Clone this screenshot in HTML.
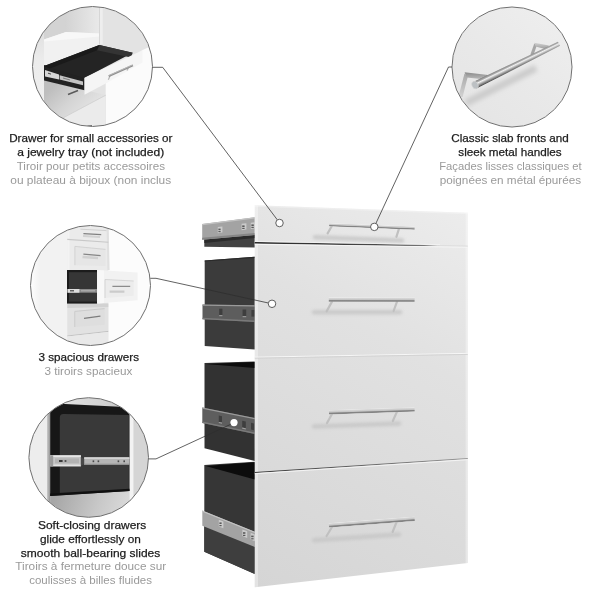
<!DOCTYPE html>
<html>
<head>
<meta charset="utf-8">
<title>3 Drawer Set Features</title>
<style>
html,body{margin:0;padding:0;background:#fff;}
body{width:600px;height:600px;overflow:hidden;position:relative;font-family:"Liberation Sans",sans-serif;}
svg{position:absolute;left:0;top:0;display:block;will-change:transform;}
text{font-family:"Liberation Sans",sans-serif;font-size:11.7px;}
.en{fill:#1c1c1c;stroke:#1c1c1c;stroke-width:0.25px;}
.fr{fill:#9a9a9a;}
.ld{fill:none;stroke:#2e2e2e;stroke-width:0.75;}
.ring{fill:none;stroke:#6f6f6f;stroke-width:1;}
.dot{fill:#fff;stroke:#555;stroke-width:0.95;}
</style>
</head>
<body>
<svg width="600" height="600" viewBox="0 0 600 600">
<defs>
  <linearGradient id="gFront" gradientUnits="userSpaceOnUse" x1="467" y1="213" x2="255" y2="587">
    <stop offset="0" stop-color="#ececec"/>
    <stop offset="0.35" stop-color="#e1e1e1"/>
    <stop offset="1" stop-color="#d5d5d5"/>
  </linearGradient>
  <linearGradient id="gRailL" x1="0" y1="0" x2="0" y2="1">
    <stop offset="0" stop-color="#b4b4b4"/>
    <stop offset="1" stop-color="#8e8e8e"/>
  </linearGradient>
  <linearGradient id="gRailD" x1="0" y1="0" x2="0" y2="1">
    <stop offset="0" stop-color="#7c7c7c"/>
    <stop offset="1" stop-color="#6a6a6a"/>
  </linearGradient>
  <linearGradient id="gBar" x1="0" y1="0" x2="0" y2="1">
    <stop offset="0" stop-color="#bdbdbd"/>
    <stop offset="0.5" stop-color="#9a9a9a"/>
    <stop offset="1" stop-color="#7d7d7d"/>
  </linearGradient>
  <filter id="blur2" x="-20%" y="-200%" width="140%" height="500%"><feGaussianBlur stdDeviation="1.6"/></filter>
  <filter id="blur1"><feGaussianBlur stdDeviation="0.6"/></filter>
  <clipPath id="c1"><circle cx="92.5" cy="66.5" r="59.5"/></clipPath>
  <clipPath id="c2"><circle cx="90.5" cy="285.5" r="59.5"/></clipPath>
  <clipPath id="c3"><circle cx="88.7" cy="457.5" r="59.5"/></clipPath>
  <clipPath id="c4"><circle cx="512" cy="67" r="59.5"/></clipPath>
  <linearGradient id="gC1L" x1="0" y1="0" x2="0" y2="1">
    <stop offset="0" stop-color="#d4d4d4"/><stop offset="0.45" stop-color="#ececec"/><stop offset="1" stop-color="#f0f0f0"/>
  </linearGradient>
  <linearGradient id="gC1S" gradientUnits="userSpaceOnUse" x1="56" y1="84" x2="86" y2="116">
    <stop offset="0" stop-color="#bebebe"/><stop offset="0.5" stop-color="#d4d4d4"/><stop offset="1" stop-color="#e4e4e4"/>
  </linearGradient>
  <linearGradient id="gC2R" gradientUnits="userSpaceOnUse" x1="108" y1="0" x2="122" y2="0">
    <stop offset="0" stop-color="#ececec"/><stop offset="1" stop-color="#fbfbfb"/>
  </linearGradient>
  <linearGradient id="gC3B" gradientUnits="userSpaceOnUse" x1="55" y1="494" x2="125" y2="518">
    <stop offset="0" stop-color="#a6a6a6"/><stop offset="0.6" stop-color="#c8c8c8"/><stop offset="1" stop-color="#dadada"/>
  </linearGradient>
  <linearGradient id="gC4" gradientUnits="userSpaceOnUse" x1="560" y1="15" x2="470" y2="120">
    <stop offset="0" stop-color="#eeeeee"/><stop offset="0.5" stop-color="#e9e9e9"/><stop offset="1" stop-color="#e5e5e5"/>
  </linearGradient>
  <linearGradient id="gBar4" gradientUnits="userSpaceOnUse" x1="515.4" y1="61.4" x2="518.4" y2="67.6">
    <stop offset="0" stop-color="#6a6a6a"/><stop offset="0.1" stop-color="#8c8c8c"/><stop offset="0.28" stop-color="#b0b0b0"/><stop offset="0.42" stop-color="#f0f0f0"/><stop offset="0.55" stop-color="#d0d0d0"/><stop offset="0.75" stop-color="#9a9a9a"/><stop offset="0.92" stop-color="#6e6e6e"/><stop offset="1" stop-color="#4a4a4a"/>
  </linearGradient>
  <linearGradient id="gArm" x1="0" y1="0" x2="0" y2="1"><stop offset="0" stop-color="#8a8a8a"/><stop offset="1" stop-color="#bdbdbd"/></linearGradient>
  <linearGradient id="gArm2" x1="0" y1="0" x2="0" y2="1"><stop offset="0" stop-color="#d2d2d2"/><stop offset="1" stop-color="#9c9c9c"/></linearGradient>
  <linearGradient id="gLeg" x1="0" y1="0" x2="0" y2="1"><stop offset="0" stop-color="#a8a8a8"/><stop offset="1" stop-color="#d2d2d2"/></linearGradient>
  <filter id="blur3" x="-20%" y="-20%" width="140%" height="140%"><feGaussianBlur stdDeviation="2.2"/></filter>
  <linearGradient id="gGap1" gradientUnits="userSpaceOnUse" x1="255" y1="0" x2="440" y2="0">
    <stop offset="0" stop-color="#262626"/><stop offset="0.7" stop-color="#4a4a4a"/><stop offset="1" stop-color="#8a8a8a"/>
  </linearGradient>
  <linearGradient id="gC1W" gradientUnits="userSpaceOnUse" x1="64" y1="0" x2="99" y2="0">
    <stop offset="0" stop-color="#d2d2d2"/><stop offset="1" stop-color="#e9e9e9"/>
  </linearGradient>
  <linearGradient id="gBarV" x1="0" y1="0" x2="0" y2="1">
    <stop offset="0" stop-color="#f0f0f0"/><stop offset="0.12" stop-color="#d8d8d8"/><stop offset="0.5" stop-color="#c4c4c4"/><stop offset="0.62" stop-color="#9c9c9c"/><stop offset="0.72" stop-color="#838383"/><stop offset="0.92" stop-color="#838383"/><stop offset="1" stop-color="#b8b8b8"/>
  </linearGradient>
  <linearGradient id="gC2L" gradientUnits="userSpaceOnUse" x1="31" y1="0" x2="40" y2="0">
    <stop offset="0" stop-color="#fdfdfd"/><stop offset="1" stop-color="#f2f2f2"/>
  </linearGradient>
  <linearGradient id="gGap3" gradientUnits="userSpaceOnUse" x1="255" y1="0" x2="468" y2="0">
    <stop offset="0" stop-color="#3a3a3a"/><stop offset="0.5" stop-color="#666"/><stop offset="1" stop-color="#9a9a9a"/>
  </linearGradient>
  <linearGradient id="gC3S" x1="0" y1="0" x2="1" y2="0"><stop offset="0" stop-color="#cacaca"/><stop offset="1" stop-color="#8e8e8e"/></linearGradient>
  <linearGradient id="gC3T" x1="0" y1="0" x2="1" y2="0"><stop offset="0" stop-color="#e8e8e8"/><stop offset="1" stop-color="#c6c6c6"/></linearGradient>
</defs>

<!-- ============ PRODUCT ============ -->
<g id="product">
  <!-- drawer 1 : rail + dark underside -->
  <polygon points="204.3,239 254.8,234 254.8,247.6 204.3,246.8" fill="#424242"/>
  <polygon points="204.3,239 254.8,234 254.8,238 204.3,243" fill="#2b2b2b"/>
  <polygon points="202.2,224 254.8,217.2 254.8,235 202.2,239.8" fill="#a3a3a3"/>
  <polygon points="202.2,224 254.8,217.2 254.8,218.4 202.2,225.2" fill="#c2c2c2"/>
  <polygon points="202.2,237.8 254.8,233 254.8,235 202.2,239.8" fill="#858585"/>
  <!-- drawer 2 box -->
  <polygon points="204.7,260.4 254.8,256.8 254.8,349.4 204.7,346" fill="#3b3b3b"/>
  <polygon points="204.7,260.4 254.8,256.8 254.8,258 204.7,261.6" fill="#2a2a2a"/>
  <polygon points="202.5,304.6 254.8,305.3 254.8,322 202.5,319.3" fill="#5d5d5d"/>
  <polygon points="202.5,304.6 254.8,305.3 254.8,306.4 202.5,305.7" fill="#9a9a9a"/>
  <polygon points="202.5,317.8 254.8,320.4 254.8,322 202.5,319.3" fill="#7a7a7a"/>
  <!-- drawer 3 box -->
  <polygon points="204.5,363 254.8,361.5 254.8,461 204.5,448.3" fill="#323232"/>
  <polygon points="205.5,364 254.8,362 254.8,368" fill="#0c0c0c"/>
  <polygon points="202.3,407.5 254.8,418 254.8,434 202.3,423" fill="#5e5e5e"/>
  <polygon points="202.3,407.5 254.8,418 254.8,419.2 202.3,408.7" fill="#9a9a9a"/>
  <polygon points="202.3,421.5 254.8,432.5 254.8,434 202.3,423" fill="#7a7a7a"/>
  <!-- drawer 4 box -->
  <polygon points="204.3,465 254.8,461.8 254.8,574 204.3,551.7" fill="#363636"/>
  <polygon points="205.5,466 254.8,462.3 254.8,479.5" fill="#0c0c0c"/>
  <polygon points="204.3,526 254.8,547 254.8,574 204.3,551.7" fill="#3e3e3e"/>
  <polygon points="202.3,510.5 254.8,531.7 254.8,547 202.3,525.8" fill="#a3a3a3"/>
  <polygon points="202.3,510.5 254.8,531.7 254.8,533 202.3,511.8" fill="#c4c4c4"/>

  <!-- rail holes -->
  <g fill="#cbcbcb">
    <polygon points="217.8,227 222.4,226.4 222.4,232.6 217.8,233.2"/>
    <polygon points="241.6,223.8 246.4,223.2 246.4,229.6 241.6,230.2"/>
    <polygon points="250.8,222.8 254.8,222.3 254.8,228.6 250.8,229.1"/>
    <polygon points="218.8,519.8 223.4,521.6 223.4,528.2 218.8,526.4"/>
    <polygon points="242.4,529.4 247.2,531.3 247.2,538 242.4,536.1"/>
    <polygon points="250.6,532.8 254.8,534.5 254.8,541.2 250.6,539.5"/>
  </g>
  <g fill="#5a5a5a">
    <rect x="218.4" y="228.6" width="2.2" height="1.6"/><rect x="218.4" y="231" width="2.2" height="1.2"/>
    <rect x="242.2" y="225.4" width="2.4" height="1.6"/><rect x="242.2" y="227.8" width="2.4" height="1.2"/>
    <rect x="251.4" y="224.4" width="2.4" height="1.6"/><rect x="251.4" y="226.8" width="2.4" height="1.2"/>
    <rect x="219.4" y="522.4" width="2.2" height="1.6"/><rect x="219.4" y="525" width="2.2" height="1.2"/>
    <rect x="243" y="532.2" width="2.4" height="1.6"/><rect x="243" y="534.8" width="2.4" height="1.2"/>
    <rect x="251.2" y="535.6" width="2.4" height="1.6"/><rect x="251.2" y="538.2" width="2.4" height="1.2"/>
  </g>
  <g fill="#3e3e3e">
    <rect x="219.2" y="308.7" width="3.2" height="6.4"/>
    <rect x="242.6" y="309.5" width="3.6" height="6.6"/>
    <rect x="251.4" y="310" width="3" height="6.6"/>
    <polygon points="218.8,415.6 222,416.3 222,422.6 218.8,421.9"/>
    <polygon points="242.2,420.8 245.8,421.5 245.8,428.3 242.2,427.6"/>
    <polygon points="251,422.8 254,423.4 254,430.2 251,429.6"/>
  </g>
  <g fill="#9c9c9c">
    <rect x="219.2" y="315.1" width="3.2" height="1.1"/>
    <rect x="242.6" y="316.1" width="3.6" height="1.1"/>
    <polygon points="218.8,421.9 222,422.6 222,423.7 218.8,423"/>
    <polygon points="242.2,427.6 245.8,428.3 245.8,429.4 242.2,428.7"/>
  </g>

  <!-- front panel -->
  <polygon points="254.8,205.3 467.8,212.8 467.8,563 254.8,587.2" fill="url(#gFront)"/>
  <polygon points="254.8,205.3 467.8,212.8 467.8,214.2 254.8,206.7" fill="#fff" opacity="0.3"/>
  <polygon points="254.8,205.3 258,205.4 258,586.8 254.8,587.2" fill="#fff" opacity="0.35"/>
  <polygon points="465.6,212.7 467.8,212.8 467.8,563 465.6,563.3" fill="#fff" opacity="0.35"/>
  <!-- gaps -->
  <polygon points="254.8,242 420,244.7 440,245.9 420,246.2 254.8,243.6" fill="url(#gGap1)"/>
  <line x1="254.8" y1="241.4" x2="440" y2="244.6" stroke="#f4f4f4" stroke-width="0.8"/>
  <line x1="438" y1="245.9" x2="467.8" y2="246.2" stroke="#d4d4d4" stroke-width="0.9"/>
  <line x1="254.8" y1="244.4" x2="467.8" y2="247.2" stroke="#f6f6f6" stroke-width="1"/>
  <line x1="254.8" y1="357.2" x2="467.8" y2="353.4" stroke="#f7f7f7" stroke-width="1"/>
  <line x1="254.8" y1="358.2" x2="467.8" y2="354.4" stroke="#d0d0d0" stroke-width="0.9"/>
  <line x1="254.8" y1="472.5" x2="467.8" y2="458.5" stroke="url(#gGap3)" stroke-width="1.15"/>
  <line x1="254.8" y1="473.7" x2="467.8" y2="459.7" stroke="#f4f4f4" stroke-width="1"/>

  <!-- handle shadows -->
  <g filter="url(#blur2)" stroke="#c6c6c6" stroke-width="4.5" fill="none" stroke-linecap="round" opacity="0.85">
    <line x1="315" y1="237.2" x2="402" y2="240.4"/>
    <line x1="314" y1="312.3" x2="400" y2="312.3"/>
    <line x1="314" y1="426.4" x2="399" y2="423.6"/>
    <line x1="314" y1="540.2" x2="399" y2="534.4"/>
  </g>
  <!-- handle posts -->
  <g stroke="#c0c0c0" stroke-width="2.2" fill="none" stroke-linecap="round">
    <line x1="332" y1="225.8" x2="327.6" y2="233.4"/>
    <line x1="399" y1="228.6" x2="396.4" y2="236.8"/>
    <line x1="332" y1="301.6" x2="326.6" y2="311.4"/>
    <line x1="397" y1="301.6" x2="393.6" y2="311"/>
    <line x1="332" y1="414" x2="327" y2="423"/>
    <line x1="397" y1="411.6" x2="392.8" y2="421"/>
    <line x1="332" y1="527" x2="326.6" y2="536"/>
    <line x1="397" y1="521" x2="392.6" y2="532"/>
  </g>
  <!-- handle bars -->
  <rect x="0" y="-1.55" width="85.46" height="3.10" fill="url(#gBarV)" transform="translate(329.20,224.80) rotate(2.213)"/>
  <rect x="0" y="-2.10" width="85.80" height="4.20" fill="url(#gBarV)" transform="translate(328.80,299.65) rotate(0.067)"/>
  <rect x="0" y="-2.10" width="85.65" height="4.20" fill="url(#gBarV)" transform="translate(329.00,412.30) rotate(-1.873)"/>
  <rect x="0" y="-2.10" width="85.85" height="4.20" fill="url(#gBarV)" transform="translate(329.00,525.40) rotate(-4.409)"/>
</g>

<!-- ============ CIRCLE 1 ============ -->
<g clip-path="url(#c1)">
  <rect x="30" y="4" width="126" height="126" fill="#e3e3e3"/>
  <!-- left side panel -->
  <rect x="30" y="4" width="14" height="126" fill="url(#gC1L)"/>
  <!-- interior back wall, left inner wall, shelf -->
  <rect x="44" y="4" width="55.5" height="40" fill="url(#gC1W)"/>
  <polygon points="44,4 64,4 66,32 44,39.5" fill="#d3d3d3"/>
  <polygon points="66,32 99.5,33.5 99.5,46 44,67 44,39.5" fill="#f1f1f1"/>
  <polygon points="66,32 99.5,33.5 99.5,36.5 44,41.5 44,39.5" fill="#f8f8f8"/>
  <!-- vertical divider -->
  <rect x="99.3" y="4" width="3.4" height="40.5" fill="#eeeeee"/>
  <rect x="99" y="4" width="0.7" height="40.5" fill="#cdcdcd"/>
  <!-- right white area below drawer -->
  <polygon points="142.5,50 156,44 156,130 105.7,130 105.7,83.5" fill="#fbfbfb"/>
  <!-- lower drawer fronts (left) -->
  <polygon points="44,80 84.7,90 105.7,95 105.7,130 44,130" fill="url(#gC1S)"/>
  <polygon points="105.7,95.5 105.7,130 50,130 50,125" fill="#ebebeb"/>
  <line x1="105.7" y1="95.2" x2="60" y2="119.5" stroke="#cfcfcf" stroke-width="0.8"/>
  <line x1="68" y1="94.5" x2="78" y2="90.5" stroke="#5a5a5a" stroke-width="1.4"/>
  <line x1="87.5" y1="126.2" x2="92" y2="125.6" stroke="#6a6a6a" stroke-width="1.2"/>
  <!-- drawer side -->
  <polygon points="44,65 84.5,77 84.5,90.2 44,80.5" fill="#222222"/>
  <polygon points="45,70 59,74.6 59,79.6 45,76.5" fill="#d6d6d6"/>
  <polygon points="59.6,75.2 83,81.4 83,85.2 59.6,79.6" fill="#c4c4c4"/>
  <line x1="48" y1="73.2" x2="51" y2="74.1" stroke="#444" stroke-width="1"/>
  <line x1="63" y1="78" x2="70" y2="80" stroke="#6a6a6a" stroke-width="0.8"/>
  <!-- interior -->
  <polygon points="44.2,66 99.3,45 132.7,52.7 84.5,78" fill="#242424"/>
  <polygon points="99.3,45 132.7,52.7 131,57.5 97,50.2" fill="#343434"/>
  <polygon points="44.2,66 99.3,45 97,50.2 50,68.5" fill="#1a1a1a"/>
  <!-- drawer front -->
  <polygon points="84.5,77.8 142.5,50.3 142.5,62.5 105.7,83.5 84.5,94.8" fill="#f5f5f5"/>
  <line x1="110" y1="76" x2="108.3" y2="79.8" stroke="#b5b5b5" stroke-width="1.2"/>
  <line x1="128.5" y1="67.4" x2="127" y2="70.6" stroke="#b5b5b5" stroke-width="1.2"/>
  <line x1="108.7" y1="76.2" x2="132.9" y2="65.4" stroke="#8e8e8e" stroke-width="2"/>
  <line x1="108.7" y1="75.6" x2="132.9" y2="64.8" stroke="#c6c6c6" stroke-width="0.7"/>
</g>
<circle class="ring" cx="92.5" cy="66.5" r="60"/>

<!-- ============ CIRCLE 2 ============ -->
<g clip-path="url(#c2)">
  <rect x="28" y="224" width="126" height="126" fill="url(#gC2L)"/>
  <rect x="108.3" y="224" width="50" height="126" fill="#fcfcfc"/>
  <rect x="67.3" y="224" width="41" height="126" fill="#ebebeb"/>
  <rect x="67.3" y="224" width="2.2" height="126" fill="#f3f3f3"/>
  <polygon points="106.6,224 108.6,224 109.6,270 107.4,270" fill="#e0e0e0"/>
  <!-- top partial drawer -->
  <line x1="80.5" y1="229.2" x2="106.5" y2="230.6" stroke="#cdcdcd" stroke-width="0.9"/>
  <line x1="83" y1="236" x2="100" y2="237" stroke="#d2d2d2" stroke-width="2.2"/>
  <line x1="83.4" y1="233.6" x2="101.2" y2="234.6" stroke="#808080" stroke-width="1.3"/>
  <line x1="67.3" y1="239.4" x2="108.3" y2="242.2" stroke="#c8c8c8" stroke-width="1.1"/>
  <!-- drawer 2 -->
  <polygon points="74.9,246.4 105.5,249.4 105.5,266 74.9,265.2" fill="#e6e6e6"/>
  <polyline points="74.9,265.2 74.9,246.4 105.5,249.4" fill="none" stroke="#cfcfcf" stroke-width="0.9"/>
  <line x1="82.5" y1="257" x2="98" y2="258" stroke="#d0d0d0" stroke-width="2.4"/>
  <line x1="83.4" y1="254.2" x2="100.6" y2="255.6" stroke="#858585" stroke-width="1.3"/>
  <!-- drawer 4 (below open) -->
  <polygon points="67.3,303.6 108.3,303.6 108.3,331.6 67.3,336" fill="#e2e2e2"/>
  <polygon points="67.3,303.6 108.3,303.6 108.3,307 67.3,308" fill="#d2d2d2"/>
  <polygon points="74.8,311.4 104.6,308.6 104.6,324.8 74.8,327" fill="#dedede"/>
  <polyline points="74.8,327 74.8,311.4 104.6,308.6" fill="none" stroke="#c8c8c8" stroke-width="0.9"/>
  <line x1="84" y1="318.4" x2="100.4" y2="316.2" stroke="#7c7c7c" stroke-width="1.3"/>
  <line x1="67.3" y1="336" x2="108.3" y2="331.4" stroke="#c2c2c2" stroke-width="1"/>
  <polygon points="67.3,336.6 108.3,332 108.3,350 67.3,350" fill="#e9e9e9"/>
  <!-- open drawer -->
  <rect x="67" y="270" width="30.2" height="33.6" fill="#1c1c1c"/>
  <rect x="69" y="272.2" width="28.2" height="29.4" fill="#363636"/>
  <rect x="67.4" y="289" width="29.8" height="3.7" fill="#8a8a8a"/>
  <rect x="67.6" y="289" width="11.8" height="3.7" fill="#dedede"/>
  <rect x="70" y="290.2" width="4" height="1.2" fill="#444"/>
  <rect x="81" y="290.3" width="14" height="1" fill="#b5b5b5"/>
  <polygon points="97.1,270 137.6,272.5 137.6,300.2 97.1,303.6" fill="#f2f2f2"/>
  <polygon points="97.1,270 104,270.4 104,303 97.1,303.6" fill="#f8f8f8"/>
  <polygon points="105,279.5 133.7,281 133.7,295.8 105,298" fill="#ececec"/>
  <polyline points="105,298 105,279.5 133.7,281" fill="none" stroke="#d2d2d2" stroke-width="0.9"/>
  <line x1="109.6" y1="291.6" x2="124.4" y2="291.6" stroke="#cbcbcb" stroke-width="2.4"/>
  <line x1="112.4" y1="286.3" x2="130.2" y2="286.3" stroke="#8c8c8c" stroke-width="1.3"/>
</g>
<circle class="ring" cx="90.5" cy="285.5" r="60"/>

<!-- ============ CIRCLE 3 ============ -->
<g clip-path="url(#c3)">
  <rect x="26" y="396" width="126" height="126" fill="#e8e8e8"/>
  <rect x="26" y="396" width="21" height="126" fill="#ededed"/>
  <rect x="47" y="396" width="3.4" height="126" fill="url(#gC3S)"/>
  <rect x="129.5" y="396" width="4" height="126" fill="#f3f3f3"/>
  <rect x="133.5" y="396" width="20" height="126" fill="#d5d5d5"/>
  <polygon points="50.2,496 129.5,491 129.5,520 50.2,520" fill="url(#gC3B)"/>
  <polygon points="50.2,396 129.5,396 129.5,408 50.2,404" fill="url(#gC3T)"/>
  <polygon points="50.2,403.2 129.5,407.3 129.5,491 50.2,496" fill="#171717"/>
  <path d="M59.8,494 V417.4 q0,-3.6 3.6,-3.5 L128.9,415 V489.6 Z" fill="#393939"/>
  <polygon points="50.2,493.6 129.5,488.8 129.5,491 50.2,496" fill="#101010"/>
  <!-- rail -->
  <rect x="50.2" y="455.3" width="30.7" height="11" fill="#c6c6c6"/>
  <rect x="50.2" y="455.3" width="30.7" height="1.6" fill="#e9e9e9"/>
  <rect x="50.2" y="464.6" width="30.7" height="1.7" fill="#e2e2e2"/>
  <rect x="55" y="458.4" width="24" height="5" fill="#b3b3b3"/>
  <rect x="59" y="460" width="3.6" height="2" fill="#3a3a3a"/>
  <rect x="64.6" y="460" width="1.8" height="2" fill="#555"/>
  <rect x="50.2" y="455.3" width="3" height="11" fill="#9a9a9a"/>
  <polygon points="80.9,457 84.4,459 84.4,464 80.9,466" fill="#4a4a4a"/>
  <rect x="84.2" y="457.3" width="45.3" height="7.6" fill="#b6b6b6"/>
  <rect x="84.2" y="457.3" width="45.3" height="1.6" fill="#d6d6d6"/>
  <rect x="84.2" y="463.7" width="45.3" height="1.2" fill="#8e8e8e"/>
  <g fill="#4a4a4a"><rect x="92.6" y="460.4" width="1.6" height="1.8"/><rect x="97.6" y="460.4" width="1.6" height="1.8"/><rect x="117.6" y="460.4" width="1.6" height="1.8"/><rect x="123.4" y="460.4" width="1.6" height="1.8"/></g>
</g>
<circle class="ring" cx="88.7" cy="457.5" r="59.8"/>

<!-- ============ CIRCLE 4 ============ -->
<g clip-path="url(#c4)">
  <rect x="450" y="5" width="126" height="126" fill="url(#gC4)"/>
  <g filter="url(#blur3)"><line x1="466" y1="103" x2="536" y2="68" stroke="#cccccc" stroke-width="7"/></g>
  <!-- left bracket -->
  <polygon points="464.5,73.5 467.8,76.6 462.6,97 458.4,97" fill="url(#gLeg)"/>
  <polygon points="464.6,72.2 488,75 485,79.6 466.6,77.6" fill="url(#gArm)"/>
  <!-- right bracket -->
  <polygon points="534.3,43.6 536.6,46 533.4,55.5 530.4,54.5" fill="#a6a6a6"/>
  <polygon points="534.3,42.8 549,45.6 546,49.2 535.6,46.6" fill="url(#gArm2)"/>
  <!-- bar -->
  <polygon points="473.17,81.88 557.98,41.74 560.02,45.86 476.43,88.52" fill="url(#gBar4)"/>
  <ellipse cx="475" cy="85.1" rx="3" ry="3.9" fill="#bcc0c3" stroke="#d6d6d6" stroke-width="0.6" transform="rotate(-26 475 85.1)"/>
</g>
<circle class="ring" cx="512" cy="67" r="60"/>

<!-- ============ LEADERS ============ -->
<polyline class="ld" points="152.5,67.3 162.7,67.3 277.3,219.8"/>
<polyline class="ld" points="150.3,278.3 156,278.3 268.4,303"/>
<polyline class="ld" points="148.7,458.9 156,458.9 231,424.2"/>
<polyline class="ld" points="452,67 448.5,67 375.9,223.4"/>
<circle class="dot" cx="279.5" cy="223" r="3.75"/>
<circle class="dot" cx="272" cy="303.8" r="3.75"/>
<circle cx="234" cy="422.6" r="3.6" fill="#fff"/>
<circle class="dot" cx="374.3" cy="226.9" r="3.75"/>

<!-- ============ TEXT ============ -->
<g text-anchor="middle" class="txt">
  <text class="en" x="90.85" y="142.2" textLength="163.3" lengthAdjust="spacingAndGlyphs">Drawer for small accessories or</text>
  <text class="en" x="90.70" y="156.3" textLength="147.0" lengthAdjust="spacingAndGlyphs">a jewelry tray (not included)</text>
  <text class="fr" x="90.85" y="170.3" textLength="148.3" lengthAdjust="spacingAndGlyphs">Tiroir pour petits accessoires</text>
  <text class="fr" x="90.75" y="184.2" textLength="160.9" lengthAdjust="spacingAndGlyphs">ou plateau à bijoux (non inclus</text>
  <text class="en" x="510.00" y="142.2" textLength="117.4" lengthAdjust="spacingAndGlyphs">Classic slab fronts and</text>
  <text class="en" x="510.00" y="156.2" textLength="103.4" lengthAdjust="spacingAndGlyphs">sleek metal handles</text>
  <text class="fr" x="510.45" y="170.1" textLength="142.5" lengthAdjust="spacingAndGlyphs">Façades lisses classiques et</text>
  <text class="fr" x="510.45" y="183.9" textLength="141.5" lengthAdjust="spacingAndGlyphs">poignées en métal épurées</text>
  <text class="en" x="88.70" y="361.0" textLength="100.6" lengthAdjust="spacingAndGlyphs">3 spacious drawers</text>
  <text class="fr" x="88.40" y="375.0" textLength="88.0" lengthAdjust="spacingAndGlyphs">3 tiroirs spacieux</text>
  <text class="en" x="92.15" y="529.3" textLength="108.3" lengthAdjust="spacingAndGlyphs">Soft-closing drawers</text>
  <text class="en" x="90.40" y="542.9" textLength="100.8" lengthAdjust="spacingAndGlyphs">glide effortlessly on</text>
  <text class="en" x="90.55" y="556.7" textLength="139.5" lengthAdjust="spacingAndGlyphs">smooth ball-bearing slides</text>
  <text class="fr" x="90.75" y="570.4" textLength="150.9" lengthAdjust="spacingAndGlyphs">Tiroirs à fermeture douce sur</text>
  <text class="fr" x="90.60" y="584.2" textLength="122.8" lengthAdjust="spacingAndGlyphs">coulisses à billes fluides</text>
</g>
</svg>
</body>
</html>
